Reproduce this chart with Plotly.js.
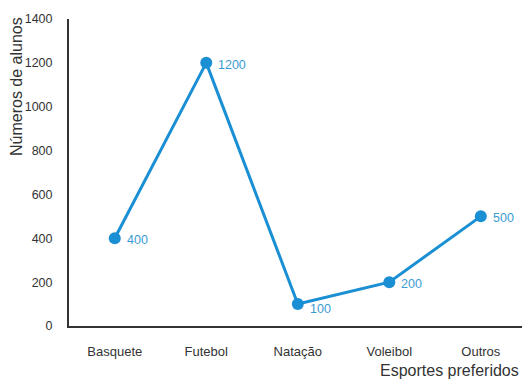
<!DOCTYPE html>
<html><head><meta charset="utf-8">
<script src="https://cdn.plot.ly/plotly-3.0.1.min.js"></script>
<style>html,body{margin:0;padding:0;background:#fff}#chart{width:522px;height:381px}</style>
</head><body><div id="chart"></div>
<script>
var categories = ["Basquete", "Futebol", "Natação", "Voleibol", "Outros"];
var alunos = [400, 1200, 100, 200, 500];
var pointLabels = ["400", "1200", "100", "200", "500"];
var yTicks = [0, 200, 400, 600, 800, 1000, 1200, 1400];
var yTitle = "Números de alunos";
var xTitle = "Esportes preferidos";

var fontFam = "Liberation Sans, Arial, sans-serif";
var trace = {
  x: categories, y: alunos,
  type: "scatter", mode: "lines+markers",
  line: {color: "#1a8fd3", width: 3},
  marker: {color: "#1a8fd3", size: 12},
  cliponaxis: false, hoverinfo: "none"
};
var labelAnns = categories.map(function (c, i) {
  return {x: c, y: alunos[i], text: pointLabels[i], xref: "x", yref: "y",
    showarrow: false, xanchor: "left", yanchor: "middle",
    xshift: 10, yshift: alunos[i] < 150 ? -5 : -2,
    font: {family: fontFam, size: 12.5, color: "#3a9bd2"}};
});
var layout = {
  width: 522, height: 381,
  margin: {l: 69, r: 0, t: 19, b: 55},
  paper_bgcolor: "#fff", plot_bgcolor: "#fff",
  showlegend: false,
  font: {family: fontFam, size: 13, color: "#333"},
  xaxis: {
    range: [-0.5, 4.45], showgrid: false, zeroline: false,
    showline: true, linecolor: "#333", linewidth: 2,
    ticks: "", ticklabelstandoff: 12,
    tickfont: {size: 13, color: "#333"}
  },
  yaxis: {
    range: [0, 1400], tickvals: yTicks, showgrid: false, zeroline: false,
    showline: true, linecolor: "#333", linewidth: 2,
    ticks: "", ticklabelstandoff: 12,
    tickfont: {size: 12.5, color: "#333"}
  },
  annotations: labelAnns.concat([
    {text: yTitle, xref: "paper", yref: "paper", x: -0.116, y: 0.78,
     textangle: -90, showarrow: false, xanchor: "center", yanchor: "middle",
     font: {size: 16, color: "#333"}},
    {text: xTitle, xref: "paper", yref: "paper", x: 0.84, y: -0.145,
     showarrow: false, xanchor: "center", yanchor: "middle",
     font: {size: 16, color: "#333"}}
  ])
};
Plotly.newPlot("chart", [trace], layout, {staticPlot: true, displayModeBar: false});
</script></body></html>
